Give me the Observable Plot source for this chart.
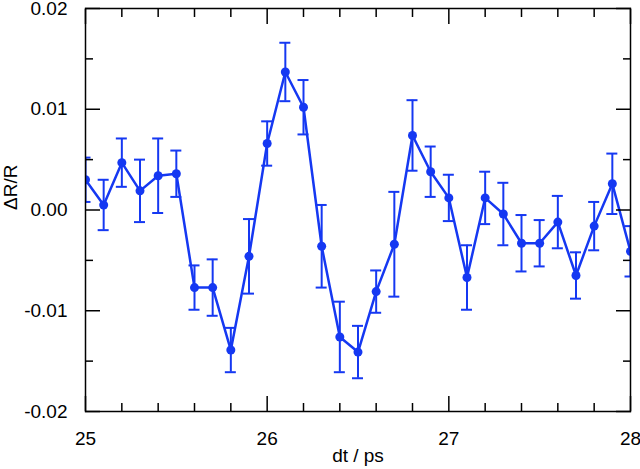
<!DOCTYPE html>
<html>
<head>
<meta charset="utf-8">
<script src="https://cdn.jsdelivr.net/npm/d3@7"></script>
<script src="https://cdn.jsdelivr.net/npm/@observablehq/plot@0.6"></script>
<style>
  html, body { margin: 0; padding: 0; background: #fff; }
  svg { display: block; }
</style>
</head>
<body>
<div id="chart"></div>
<script>
// Delay times (ps)
const dt = [25.0, 25.1, 25.2, 25.3, 25.4, 25.5, 25.6, 25.7, 25.8, 25.9,
            26.0, 26.1, 26.2, 26.3, 26.4, 26.5, 26.6, 26.7, 26.8, 26.9,
            27.0, 27.1, 27.2, 27.3, 27.4, 27.5, 27.6, 27.7, 27.8, 27.9, 28.0];
// ΔR/R values
const dR = [0.0030, 0.0005, 0.0047, 0.0019, 0.0034, 0.0036, -0.0077, -0.0077, -0.0139, -0.0046,
            0.0066, 0.0137, 0.0102, -0.0036, -0.0126, -0.0141, -0.0081, -0.0034, 0.0074, 0.0038,
            0.0012, -0.0067, 0.0012, -0.0004, -0.0033, -0.0033, -0.0012, -0.0065, -0.0016, 0.0026, -0.0041];
// Error bar half-widths
const err = [0.0022, 0.0025, 0.0024, 0.0031, 0.0037, 0.0023, 0.0022, 0.0028, 0.0022, 0.0037,
             0.0022, 0.0029, 0.0027, 0.0041, 0.0035, 0.0026, 0.0021, 0.0052, 0.0035, 0.0025,
             0.0023, 0.0032, 0.0026, 0.0031, 0.0028, 0.0023, 0.0026, 0.0023, 0.0024, 0.0030, 0.0025];

// Ticks
const xMajor = [25, 26, 27, 28];
const xMajorLabels = ["25", "26", "27", "28"];
const xMinor = [25.2, 25.4, 25.6, 25.8, 26.2, 26.4, 26.6, 26.8, 27.2, 27.4, 27.6, 27.8];
const yMajor = [-0.02, -0.01, 0, 0.01, 0.02];
const yMajorLabels = ["-0.02", "-0.01", "0.00", "0.01", "0.02"];
const yMinor = [-0.015, -0.005, 0.005, 0.015];

const xLabel = "dt / ps";
const yLabel = "ΔR/R";

const data = dt.map((x, i) => ({x, y: dR[i], lo: dR[i] - err[i], hi: dR[i] + err[i]}));

const blue = "#1538f2";
const font = "'Liberation Sans', Arial, Helvetica, sans-serif";
const fs = 19;

const chart = Plot.plot({
  width: 640,
  height: 469,
  marginLeft: 85,
  marginRight: 10,
  marginTop: 8,
  marginBottom: 58,
  style: {fontFamily: font, fontSize: fs + "px", background: "white", color: "black"},
  x: {domain: [25, 28]},
  y: {domain: [-0.02, 0.02]},
  marks: [
    // error bars
    Plot.ruleX(data, {x: "x", y1: "lo", y2: "hi", stroke: blue, strokeWidth: 2, clip: true}),
    Plot.ruleY(data, {y: "hi", x1: "x", x2: "x", insetLeft: -5.5, insetRight: -5.5, stroke: blue, strokeWidth: 2, clip: true}),
    Plot.ruleY(data, {y: "lo", x1: "x", x2: "x", insetLeft: -5.5, insetRight: -5.5, stroke: blue, strokeWidth: 2, clip: true}),
    // line and points
    Plot.line(data, {x: "x", y: "y", stroke: blue, strokeWidth: 2.5, clip: true}),
    Plot.dot(data, {x: "x", y: "y", r: 4.5, fill: blue, stroke: "none", clip: true}),
    // frame
    Plot.frame({stroke: "black", strokeWidth: 1.5}),
    // inward ticks: left
    Plot.axisY(yMajor, {anchor: "left", tickSize: 15, dx: 15, tickFormat: () => "", label: null, strokeWidth: 1.5}),
    Plot.axisY(yMinor, {anchor: "left", tickSize: 8, dx: 8, tickFormat: () => "", label: null, strokeWidth: 1.5}),
    // right
    Plot.axisY(yMajor, {anchor: "right", tickSize: 15, dx: -15, tickFormat: () => "", label: null, strokeWidth: 1.5}),
    Plot.axisY(yMinor, {anchor: "right", tickSize: 8, dx: -8, tickFormat: () => "", label: null, strokeWidth: 1.5}),
    // bottom
    Plot.axisX(xMajor, {anchor: "bottom", tickSize: 15, dy: -15, tickFormat: () => "", label: null, strokeWidth: 1.5}),
    Plot.axisX(xMinor, {anchor: "bottom", tickSize: 8, dy: -8, tickFormat: () => "", label: null, strokeWidth: 1.5}),
    // top
    Plot.axisX(xMajor, {anchor: "top", tickSize: 15, dy: 15, tickFormat: () => "", label: null, strokeWidth: 1.5}),
    Plot.axisX(xMinor, {anchor: "top", tickSize: 8, dy: 8, tickFormat: () => "", label: null, strokeWidth: 1.5}),
    // tick labels
    Plot.axisY(yMajor, {anchor: "left", tickSize: 0, tickPadding: 18, tickFormat: d => yMajorLabels[yMajor.indexOf(d)], label: null, fontSize: fs}),
    Plot.axisX(xMajor, {anchor: "bottom", tickSize: 0, tickPadding: 20, tickFormat: d => xMajorLabels[xMajor.indexOf(d)], label: null, fontSize: fs}),
    // axis titles
    Plot.text([xLabel], {frameAnchor: "bottom", dy: 44, lineAnchor: "middle", fontSize: fs}),
    Plot.text([yLabel], {frameAnchor: "left", dx: -75, rotate: -90, lineAnchor: "middle", fontSize: fs})
  ]
});

document.getElementById("chart").appendChild(chart);
</script>
</body>
</html>
